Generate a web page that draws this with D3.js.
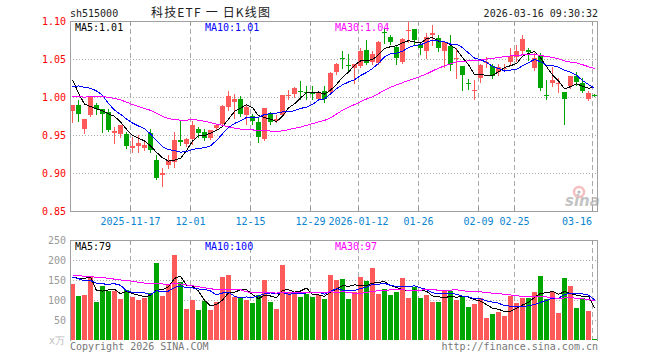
<!DOCTYPE html>
<meta charset="utf-8">
<style>
    body { margin: 0; background: #fff; }
    svg text { font-family: "DejaVu Sans Mono", monospace; font-size: 10px; }
</style>
<body>
<svg width="660" height="360"></svg>
<script src="https://d3js.org/d3.v7.min.js"></script>
<script>
    // séances affichées
    const dates = [
        "2025-11-03", "2025-11-04", "2025-11-05", "2025-11-06", "2025-11-07",
        "2025-11-10", "2025-11-11", "2025-11-12", "2025-11-13", "2025-11-14",
        "2025-11-17", "2025-11-18", "2025-11-19", "2025-11-20", "2025-11-21",
        "2025-11-24", "2025-11-25", "2025-11-26", "2025-11-27", "2025-11-28",
        "2025-12-01", "2025-12-02", "2025-12-03", "2025-12-04", "2025-12-05",
        "2025-12-08", "2025-12-09", "2025-12-10", "2025-12-11", "2025-12-12",
        "2025-12-15", "2025-12-16", "2025-12-17", "2025-12-18", "2025-12-19",
        "2025-12-22", "2025-12-23", "2025-12-24", "2025-12-25", "2025-12-26",
        "2025-12-29", "2025-12-30", "2025-12-31",
        "2026-01-05", "2026-01-06", "2026-01-07", "2026-01-08", "2026-01-09",
        "2026-01-12", "2026-01-13", "2026-01-14", "2026-01-15", "2026-01-16",
        "2026-01-19", "2026-01-20", "2026-01-21", "2026-01-22", "2026-01-23",
        "2026-01-26", "2026-01-27", "2026-01-28", "2026-01-29", "2026-01-30",
        "2026-02-02", "2026-02-03", "2026-02-04", "2026-02-05", "2026-02-06",
        "2026-02-09", "2026-02-10", "2026-02-11", "2026-02-12", "2026-02-13",
        "2026-02-24", "2026-02-25", "2026-02-26", "2026-02-27",
        "2026-03-02", "2026-03-03", "2026-03-04", "2026-03-05", "2026-03-06",
        "2026-03-09", "2026-03-10", "2026-03-11", "2026-03-12", "2026-03-13",
        "2026-03-16"
    ];

    const opens = [
        0.982, 0.989, 0.958, 0.976, 0.990, 0.984, 0.980, 0.952, 0.951, 0.951,
        0.933, 0.935, 0.933, 0.952, 0.917, 0.898, 0.911, 0.915, 0.943, 0.938,
        0.945, 0.958, 0.954, 0.946, 0.959, 0.965, 0.987, 0.993, 0.998, 0.976,
        0.975, 0.967, 0.945, 0.977, 0.968, 0.976, 1.001, 1.004, 1.008, 1.007,
        1.006, 0.998, 1.008, 1.006, 1.033, 1.051, 1.042, 1.038, 1.041, 1.062,
        1.046, 1.045, 1.085, 1.079, 1.066, 1.046, 1.087, 1.090, 1.069, 1.060,
        1.082, 1.078, 1.060, 1.067, 1.051, 1.041, 1.018, 1.008, 1.025, 1.045,
        1.041, 1.033, 1.037, 1.046, 1.053, 1.060, 1.062, 1.038, 1.054, 1.003,
        1.018, 1.018, 1.006, 1.014, 1.027, 1.018, 0.998, 1.003
    ];
    const highs = [
        0.989, 0.996, 0.971, 1.001, 0.992, 0.984, 0.984, 0.961, 0.963, 0.954,
        0.948, 0.950, 0.941, 0.958, 0.924, 0.906, 0.924, 0.954, 0.970, 0.946,
        0.968, 0.961, 0.958, 0.956, 0.965, 0.990, 1.008, 1.004, 1.001, 0.990,
        0.977, 0.972, 0.986, 0.980, 0.976, 1.003, 1.009, 1.013, 1.021, 1.014,
        1.015, 1.008, 1.014, 1.033, 1.045, 1.060, 1.056, 1.044, 1.064, 1.075,
        1.060, 1.074, 1.090, 1.082, 1.069, 1.078, 1.101, 1.090, 1.073, 1.084,
        1.095, 1.082, 1.074, 1.082, 1.064, 1.041, 1.024, 1.022, 1.043, 1.053,
        1.043, 1.043, 1.043, 1.064, 1.068, 1.081, 1.064, 1.058, 1.058, 1.022,
        1.040, 1.025, 1.006, 1.028, 1.033, 1.025, 1.008, 1.004
    ];
    const lows = [
        0.967, 0.969, 0.952, 0.975, 0.978, 0.954, 0.955, 0.939, 0.948, 0.933,
        0.927, 0.927, 0.930, 0.928, 0.892, 0.883, 0.906, 0.908, 0.937, 0.936,
        0.938, 0.947, 0.944, 0.945, 0.957, 0.963, 0.983, 0.972, 0.975, 0.964,
        0.964, 0.941, 0.943, 0.964, 0.967, 0.975, 0.998, 1.000, 0.998, 0.998,
        0.998, 0.996, 0.994, 1.005, 1.030, 1.038, 1.033, 1.018, 1.039, 1.043,
        1.044, 1.044, 1.071, 1.070, 1.043, 1.045, 1.073, 1.069, 1.056, 1.051,
        1.068, 1.060, 1.039, 1.035, 1.025, 1.009, 1.010, 0.998, 1.020, 1.039,
        1.025, 1.029, 1.035, 1.043, 1.047, 1.057, 1.049, 1.036, 1.009, 0.997,
        1.014, 1.006, 0.965, 1.012, 1.016, 1.007, 0.996, 1.001
    ];
    const closes = [
        0.989, 0.978, 0.971, 1.000, 0.984, 0.977, 0.957, 0.955, 0.963, 0.936,
        0.936, 0.939, 0.937, 0.930, 0.894, 0.900, 0.917, 0.944, 0.941, 0.945,
        0.963, 0.952, 0.946, 0.956, 0.963, 0.988, 1.001, 0.997, 0.977, 0.987,
        0.968, 0.948, 0.985, 0.967, 0.971, 1.002, 1.003, 1.012, 1.006, 1.005,
        1.004, 1.006, 0.998, 1.032, 1.043, 1.050, 1.041, 1.043, 1.060, 1.045,
        1.057, 1.073, 1.084, 1.072, 1.051, 1.076, 1.088, 1.075, 1.065, 1.079,
        1.084, 1.064, 1.073, 1.042, 1.051, 1.029, 1.017, 1.009, 1.042, 1.046,
        1.028, 1.040, 1.038, 1.054, 1.060, 1.076, 1.059, 1.051, 1.012, 1.002,
        1.022, 1.019, 0.998, 1.027, 1.020, 1.008, 1.005, 1.002
    ];
    const volumes = [
        140, 110, 112, 160, 95, 135, 123, 123, 103, 125,
        108, 100, 106, 117, 193, 110, 138, 212, 146, 78,
        100, 75, 98, 75, 96, 157, 162, 108, 104, 100,
        93, 112, 150, 95, 78, 188, 117, 121, 108, 115,
        108, 112, 103, 162, 151, 152, 103, 121, 157, 148,
        181, 115, 127, 112, 120, 155, 105, 133, 105, 112,
        95, 95, 122, 122, 100, 110, 82, 90, 105, 55,
        65, 70, 60, 110, 92, 105, 105, 120, 160, 102,
        120, 68, 156, 136, 80, 105, 73, 3
    ];

    // 29 séances avant le 2025-11-03 (estimées) : servent seulement aux moyennes mobiles
    const priorCloses = [
        0.975, 0.985, 0.980, 0.975, 0.985, 0.990, 1.000, 1.015, 1.025, 1.030,
        1.020, 1.010, 1.005, 1.015, 1.020, 1.000, 0.990, 0.960, 0.945, 0.945,
        0.970, 0.990, 1.010, 1.020, 1.034, 1.065, 1.044, 1.016, 0.999
    ];
    const priorVolumes = [
        150, 180, 170, 145, 160, 175, 190, 165, 155, 170,
        185, 160, 150, 165, 175, 160, 155, 170, 160, 165,
        145, 170, 150, 165, 150, 130, 112, 140, 268
    ];

    const tickDates = ["2025-11-17", "2025-12-01", "2025-12-15", "2025-12-29", "2026-01-12",
        "2026-01-26", "2026-02-09", "2026-02-25", "2026-03-16"];
    const tickLabels = ["2025-11-17", "12-01", "12-15", "12-29", "2026-01-12",
        "01-26", "02-09", "02-25", "03-16"];
    const priceTicks = [0.85, 0.90, 0.95, 1.00, 1.05, 1.10];
    const volumeTicks = [0, 50, 100, 150, 200, 250];

    const maPeriods = [5, 10, 30];
    const maColors = ["#000000", "#0000ff", "#ff00ff"];
    const upColor = "#ff5a5a";
    const downColor = "#00a600";

    const svg = d3.select("svg");
    const left = 70, right = 597;
    const main = { top: 21, bottom: 211 };
    const vol = { top: 240, bottom: 340 };

    const x = d3.scaleBand().domain(dates).range([left - 1, right]);
    const y = d3.scaleLinear().domain([0.85, 1.10]).range([main.bottom, main.top]);
    const yv = d3.scaleLinear().domain([0, 250]).range([vol.bottom, vol.top]);
    const px = v => Math.round(v) + 0.5;

    function movingAverage(prior, values, n) {
        const all = prior.concat(values);
        return values.map((v, i) => d3.mean(all.slice(i + prior.length - n + 1, i + prior.length + 1)));
    }
    const priceMA = maPeriods.map(n => movingAverage(priorCloses, closes, n));
    const volumeMA = maPeriods.map(n => movingAverage(priorVolumes, volumes, n));

    const defs = svg.append("defs");
    defs.append("clipPath").attr("id", "clipMain").append("rect")
        .attr("x", left).attr("y", main.top).attr("width", right - left).attr("height", main.bottom - main.top);
    defs.append("clipPath").attr("id", "clipVol").append("rect")
        .attr("x", left).attr("y", vol.top).attr("width", right - left).attr("height", vol.bottom - vol.top);

    // en-tête
    svg.append("text").attr("x", 70).attr("y", 17).attr("fill", "#222").text("sh515000");
    svg.append("text").attr("x", 151).attr("y", 17)
        .style("font-family", "'Noto Sans CJK SC', sans-serif").style("font-size", "12px")
        .attr("textLength", 119).attr("lengthAdjust", "spacing")
        .attr("fill", "#222").text("科技ETF 一 日K线图");
    svg.append("text").attr("x", 598).attr("y", 17).attr("text-anchor", "end")
        .attr("fill", "#222").text("2026-03-16 09:30:32");

    // grilles
    function drawGrid(g, scale, ticks, top, bottom, labelColor, fmt) {
        g.selectAll(".hgrid").data(ticks.slice(1, -1)).join("line")
            .attr("x1", left).attr("x2", right)
            .attr("y1", d => px(scale(d))).attr("y2", d => px(scale(d)))
            .attr("stroke", "#aaa").attr("stroke-dasharray", "1,2");
        g.selectAll(".vgrid").data(tickDates).join("line")
            .attr("x1", d => x(d) + 1.5).attr("x2", d => x(d) + 1.5)
            .attr("y1", top).attr("y2", bottom)
            .attr("stroke", "#aaa").attr("stroke-dasharray", "5,3");
        g.selectAll(".tickTop").data(tickDates).join("line")
            .attr("x1", d => x(d) + 1.5).attr("x2", d => x(d) + 1.5)
            .attr("y1", top).attr("y2", top + 4).attr("stroke", "#999");
        g.selectAll(".ylab").data(ticks).join("text")
            .attr("x", 66).attr("y", d => scale(d)).attr("dy", "0.35em")
            .attr("text-anchor", "end").attr("fill", labelColor).text(fmt);
    }

    const gMain = svg.append("g").style("shape-rendering", "crispEdges");
    drawGrid(gMain, y, priceTicks, main.top, main.bottom, "#ff0000", d => d.toFixed(2));
    gMain.selectAll(".tickBottom").data(tickDates).join("line")
        .attr("x1", d => x(d) + 1.5).attr("x2", d => x(d) + 1.5)
        .attr("y1", main.bottom - 4).attr("y2", main.bottom).attr("stroke", "#999");

    const gVol = svg.append("g").style("shape-rendering", "crispEdges");
    drawGrid(gVol, yv, volumeTicks, vol.top, vol.bottom, "#999", d => d === 0 ? "" : d);

    // axe des dates
    svg.selectAll(".dateLabel").data(tickDates).join("text")
        .attr("x", (d, i) => i === tickDates.length - 1 ? x(d) + 1 : x(d) + 1.5)
        .attr("y", 225)
        .attr("text-anchor", (d, i) => i === tickDates.length - 1 ? "end" : "middle")
        .attr("fill", "#0a84d0")
        .text((d, i) => tickLabels[i]);

    // filigrane sina
    const logo = svg.append("g").attr("opacity", 0.7);
    logo.append("circle").attr("cx", 579).attr("cy", 192).attr("r", 5)
        .attr("fill", "none").attr("stroke", "#f3a3a3").attr("stroke-width", 2.5);
    logo.append("circle").attr("cx", 579).attr("cy", 192).attr("r", 1.6).attr("fill", "#999");
    logo.append("text").attr("x", 565).attr("y", 206)
        .style("font-family", "'DejaVu Sans', sans-serif").style("font-size", "15px")
        .style("font-weight", "bold").style("font-style", "italic")
        .attr("fill", "#aaa").text("sina");

    // bougies
    const candles = svg.append("g").attr("clip-path", "url(#clipMain)").style("shape-rendering", "crispEdges");
    const idx = d3.range(dates.length);
    const colorOf = i => closes[i] >= opens[i] ? upColor : downColor;

    candles.selectAll(".wick").data(idx).join("line")
        .attr("x1", i => x(dates[i]) + 3.5).attr("x2", i => x(dates[i]) + 3.5)
        .attr("y1", i => Math.round(y(highs[i]))).attr("y2", i => Math.round(y(lows[i])) + 1)
        .attr("stroke", colorOf);
    candles.selectAll(".body").data(idx).join("rect")
        .attr("x", i => x(dates[i]) + 1)
        .attr("width", 5)
        .attr("y", i => Math.round(y(Math.max(opens[i], closes[i]))))
        .attr("height", i => Math.max(1, Math.round(y(Math.min(opens[i], closes[i]))) - Math.round(y(Math.max(opens[i], closes[i])))))
        .attr("fill", colorOf);

    // volumes
    const bars = svg.append("g").attr("clip-path", "url(#clipVol)").style("shape-rendering", "crispEdges");
    bars.selectAll("rect").data(idx).join("rect")
        .attr("x", i => x(dates[i]) + 1)
        .attr("width", 5)
        .attr("y", i => Math.round(yv(volumes[i])))
        .attr("height", i => vol.bottom - Math.round(yv(volumes[i])))
        .attr("fill", colorOf);

    // moyennes mobiles
    function drawMA(g, series, scale) {
        series.forEach((vals, k) => {
            const line = d3.line()
                .x((d, i) => x(dates[i]) + 3.5)
                .y(d => scale(d));
            g.append("path").attr("d", line(vals))
                .attr("fill", "none").attr("stroke", maColors[k]).attr("stroke-width", 1);
        });
    }
    drawMA(candles, priceMA, y);
    drawMA(bars, volumeMA, yv);

    // cadres
    [main, vol].forEach((p, k) => {
        const frame = svg.append("g").style("shape-rendering", "crispEdges").attr("stroke", "#a0a0a0");
        frame.append("line").attr("x1", px(left)).attr("x2", px(left)).attr("y1", p.top).attr("y2", p.bottom + 1);
        frame.append("line").attr("x1", px(right)).attr("x2", px(right)).attr("y1", p.top).attr("y2", p.bottom + 1);
        frame.append("line").attr("x1", left).attr("x2", right + 1).attr("y1", px(p.top)).attr("y2", px(p.top));
        if (k === 0) frame.append("line").attr("x1", left).attr("x2", right + 1).attr("y1", px(p.bottom)).attr("y2", px(p.bottom));
    });

    // légendes MA
    const lastPrice = priceMA.map(a => a[a.length - 1].toFixed(2));
    const lastVol = volumeMA.map(a => Math.round(a[a.length - 1]));
    const legendX = [75, 205, 335];
    maPeriods.forEach((n, k) => {
        svg.append("text").attr("x", legendX[k]).attr("y", 31).attr("fill", maColors[k])
            .text(`MA${n}:${lastPrice[k]}`);
        svg.append("text").attr("x", legendX[k]).attr("y", 250).attr("fill", maColors[k])
            .text(`MA${n}:${lastVol[k]}`);
    });

    // pied
    svg.append("text").attr("x", 49).attr("y", 344).attr("fill", "#bbb").text("x万");
    svg.append("text").attr("x", 70).attr("y", 350).attr("fill", "#777").text("Copyright 2026 SINA.COM");
    svg.append("text").attr("x", 598).attr("y", 350).attr("text-anchor", "end")
        .attr("fill", "#777").text("http://finance.sina.com.cn");
</script>
</body>
